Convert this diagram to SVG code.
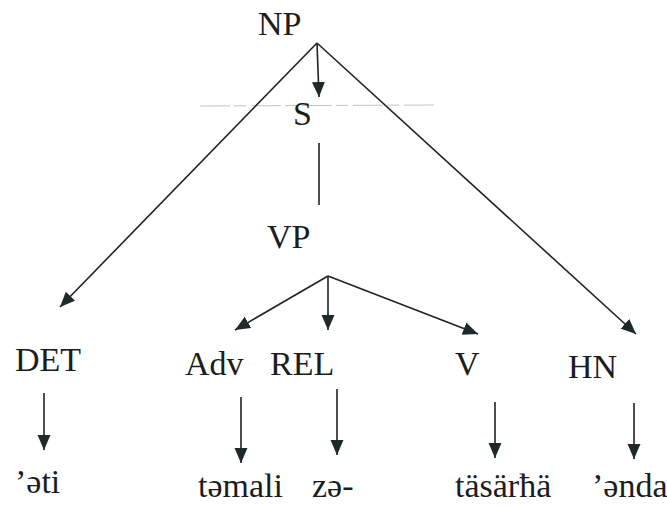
<svg xmlns="http://www.w3.org/2000/svg" width="667" height="506" viewBox="0 0 667 506">
<style>
text{font-family:'Liberation Serif','Times New Roman',serif;font-size:34px;fill:#1c1c1c}
.e{stroke:#222;stroke-width:1.6;fill:none}
.a{marker-end:url(#ah)}
</style>
<defs>
<marker id="ah" markerUnits="userSpaceOnUse" markerWidth="16" markerHeight="14" refX="15" refY="6.5" orient="auto" viewBox="0 0 16 13">
<path d="M0,0 L15,6.5 L0,13 z" fill="#1e2a2a"/>
</marker>
</defs>
<line x1="200" y1="106" x2="435" y2="105" stroke="#c4c4c4" stroke-width="1" stroke-dasharray="30,4,12,5"/>
<g id="connectors">
<line class="e a" x1="317" y1="43" x2="319" y2="97"/>
<line class="e a" x1="317" y1="43" x2="60" y2="307"/>
<line class="e a" x1="317" y1="43" x2="636" y2="334"/>
<line class="e" x1="319" y1="143" x2="319" y2="205"/>
<line class="e a" x1="328" y1="276" x2="235" y2="330"/>
<line class="e a" x1="328" y1="276" x2="328" y2="330"/>
<line class="e a" x1="328" y1="276" x2="478" y2="334"/>
<line class="e a" x1="44" y1="393" x2="44" y2="450"/>
<line class="e a" x1="241" y1="397" x2="241" y2="463"/>
<line class="e a" x1="337" y1="389" x2="337" y2="455"/>
<line class="e a" x1="495" y1="402" x2="495" y2="458"/>
<line class="e a" x1="634" y1="403" x2="634" y2="459"/>
</g>
<g id="NP"><text x="258" y="35">NP</text></g>
<g id="S"><text x="293" y="125">S</text></g>
<g id="VP"><text x="267" y="248">VP</text></g>
<g id="DET"><text x="15" y="371">DET</text></g>
<g id="Adv"><text x="185" y="375">Adv</text></g>
<g id="REL"><text x="270" y="375">REL</text></g>
<g id="V"><text x="455" y="375">V</text></g>
<g id="HN"><text x="568" y="378">HN</text></g>
<g id="w-eti"><text x="15" y="493">’əti</text></g>
<g id="w-temali"><text x="198" y="497">təmali</text></g>
<g id="w-ze"><text x="312" y="497">zə-</text></g>
<g id="w-tasarha"><text x="455" y="497">täsärħä</text></g>
<g id="w-enda"><text x="592" y="497">’ənda</text></g>
</svg>
